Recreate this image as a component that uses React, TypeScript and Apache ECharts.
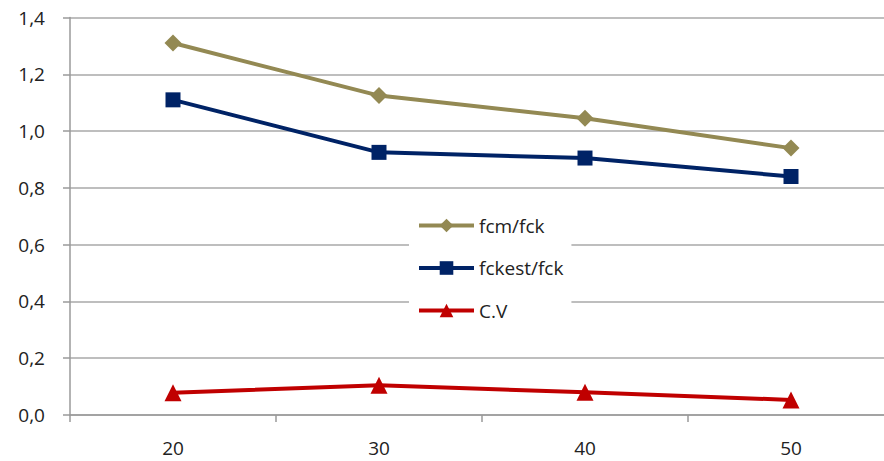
import React, { useEffect, useRef } from "react";
import * as echarts from "echarts";

const categories = ["20", "30", "40", "50"];
const fcmFck = [1.31, 1.125, 1.045, 0.94];
const fckestFck = [1.11, 0.925, 0.905, 0.84];
const cv = [0.078, 0.105, 0.08, 0.053];
const yTicks = [0, 0.2, 0.4, 0.6, 0.8, 1.0, 1.2, 1.4];

const FONT = "'Open Sans', 'Noto Sans', sans-serif";

export default function App() {
  const ref = useRef<HTMLDivElement>(null);
  useEffect(() => {
    if (!ref.current) return;
    const chart = echarts.init(ref.current, undefined, { renderer: "svg" });
    const lineSeries = (name: string, data: number[], color: string, symbol: string, size: number) => ({
      name,
      type: "line",
      data,
      symbol,
      symbolSize: size,
      showSymbol: true,
      lineStyle: { color, width: 4 },
      itemStyle: { color },
      z: 3,
    });
    chart.setOption({
      animation: false,
      backgroundColor: "#ffffff",
      grid: { left: 70, top: 17.5, width: 824, height: 397.5, containLabel: false },
      legend: {
        orient: "vertical",
        left: 409,
        top: 207,
        width: 190,
        padding: [9, 8, 9, 8],
        backgroundColor: "#ffffff",
        itemWidth: 55,
        itemHeight: 17,
        itemGap: 23.5,
        lineStyle: { width: 4 },
        textStyle: { fontFamily: FONT, fontSize: 19, color: "#222" },
        data: ["fcm/fck", "fckest/fck", "C.V"],
        z: 10,
      },
      xAxis: {
        type: "category",
        data: categories,
        boundaryGap: true,
        axisLine: { lineStyle: { color: "#9a9a9a", width: 1.5 } },
        axisTick: { show: true, length: 7, lineStyle: { color: "#9a9a9a", width: 1.5 } },
        axisLabel: { fontFamily: FONT, fontSize: 19, color: "#222", margin: 23 },
        splitLine: { show: false },
      },
      yAxis: {
        type: "value",
        min: 0,
        max: 1.4,
        interval: 0.2,
        axisLine: { show: true, lineStyle: { color: "#9a9a9a", width: 1.5 } },
        axisTick: { show: true, length: 7, lineStyle: { color: "#9a9a9a", width: 1.5 } },
        axisLabel: {
          fontFamily: FONT,
          fontSize: 19,
          color: "#222",
          margin: 25,
          formatter: (v: number) => {
            const t = yTicks.find((x) => Math.abs(x - v) < 1e-6);
            return (t !== undefined ? t : v).toFixed(1).replace(".", ",");
          },
        },
        splitLine: { show: true, lineStyle: { color: "#a8a8a8", width: 1.5 } },
      },
      series: [
        lineSeries("fcm/fck", fcmFck, "#938953", "diamond", 17),
        lineSeries("fckest/fck", fckestFck, "#002366", "rect", 15),
        lineSeries("C.V", cv, "#c00000", "triangle", 17),
      ],
    });
    return () => chart.dispose();
  }, []);
  return (
    <div style={{ position: "fixed", left: 0, top: 0, width: 884, height: 461, overflow: "hidden", background: "#fff" }}>
      <div ref={ref} style={{ width: 900, height: 461 }} />
    </div>
  );
}
